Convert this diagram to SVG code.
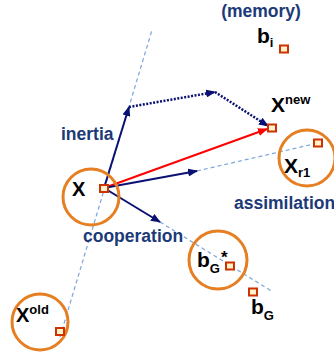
<svg xmlns="http://www.w3.org/2000/svg" width="334" height="354" viewBox="0 0 334 354">
<style>
.circ{fill:none;stroke:#e67e22;stroke-width:3}
.sq{fill:#fff2cc;stroke:#cc3300;stroke-width:2}
.dash{fill:none;stroke:#7aa6dc;stroke-width:1.2;stroke-dasharray:4 3}
.nav{fill:none;stroke:#0a1172;stroke-width:2}
.dot{fill:none;stroke:#0a1172;stroke-width:2.5;stroke-dasharray:2 1.5}
.lbl{font-family:"Liberation Sans",Arial,sans-serif;font-weight:bold;fill:#1c3a78;font-size:17.5px}
.sym{font-family:"Liberation Sans",Arial,sans-serif;font-weight:bold;fill:#000}
</style>
<defs>
<marker id="ah" viewBox="0 0 10 8" refX="9" refY="4" markerWidth="10" markerHeight="8" markerUnits="userSpaceOnUse" orient="auto"><path d="M0,0 L10,4 L0,8 z" fill="#0a1172"/></marker>
<marker id="ahr" viewBox="0 0 10 8" refX="9" refY="4" markerWidth="10" markerHeight="8" markerUnits="userSpaceOnUse" orient="auto"><path d="M0,0 L10,4 L0,8 z" fill="#ff0000"/></marker>
</defs>
<g id="connectors">
<line class="dash" x1="60" y1="337" x2="152" y2="30"/>
<line class="dash" x1="197" y1="171" x2="318" y2="143"/>
<line class="dash" x1="160" y1="222" x2="273" y2="292"/>
<line class="nav" x1="104" y1="188" x2="129" y2="107" marker-end="url(#ah)"/>
<line class="dot" x1="129" y1="107" x2="215" y2="92" marker-end="url(#ah)"/>
<line class="dot" x1="215" y1="92" x2="268" y2="126" marker-end="url(#ah)"/>
<line x1="104" y1="188" x2="267" y2="129" stroke="#ff0000" stroke-width="2" marker-end="url(#ahr)"/>
<line class="nav" x1="104" y1="188" x2="197" y2="171" marker-end="url(#ah)"/>
<line class="nav" x1="104" y1="188" x2="160" y2="222" marker-end="url(#ah)"/>
</g>
<g id="node-x">
<circle class="circ" cx="91" cy="197" r="28"/>
<rect class="sq" x="100" y="185" width="8" height="7"/>
<text class="sym" x="72" y="196" font-size="20">X</text>
</g>
<g id="node-xold">
<circle class="circ" cx="40" cy="322" r="28"/>
<rect class="sq" x="56" y="328" width="8" height="7"/>
<text class="sym" x="16" y="322" font-size="20">X<tspan font-size="13" dy="-8">old</tspan></text>
</g>
<g id="node-xr1">
<circle class="circ" cx="307" cy="158" r="28"/>
<rect class="sq" x="314" y="139.5" width="8" height="7"/>
<text class="sym" x="284" y="173" font-size="21">X<tspan font-size="13" dy="4">r1</tspan></text>
</g>
<g id="node-bgstar">
<circle class="circ" cx="218" cy="260" r="29"/>
<rect class="sq" x="226" y="262.5" width="8" height="7"/>
<text class="sym" x="197" y="267" font-size="21">b<tspan font-size="13" dy="6">G</tspan><tspan font-size="17" dx="1" dy="-10">*</tspan></text>
</g>
<g id="node-bg">
<rect class="sq" x="249" y="288.5" width="8" height="7"/>
<text class="sym" x="251" y="314" font-size="21">b<tspan font-size="13" dy="6">G</tspan></text>
</g>
<g id="node-bi">
<rect class="sq" x="280" y="45.5" width="8" height="7"/>
<text class="sym" x="257" y="43" font-size="21">b<tspan font-size="13" dy="4">i</tspan></text>
</g>
<g id="node-xnew">
<rect class="sq" x="268" y="124.5" width="8" height="7"/>
<text class="sym" x="271" y="112" font-size="21">X<tspan font-size="13" dy="-8">new</tspan></text>
</g>
<g id="labels">
<text class="lbl" x="261" y="17" text-anchor="middle" font-size="16.5">(memory)</text>
<text class="lbl" x="61" y="140">inertia</text>
<text class="lbl" x="83" y="242">cooperation</text>
<text class="lbl" x="234" y="209">assimilation</text>
</g>
</svg>
